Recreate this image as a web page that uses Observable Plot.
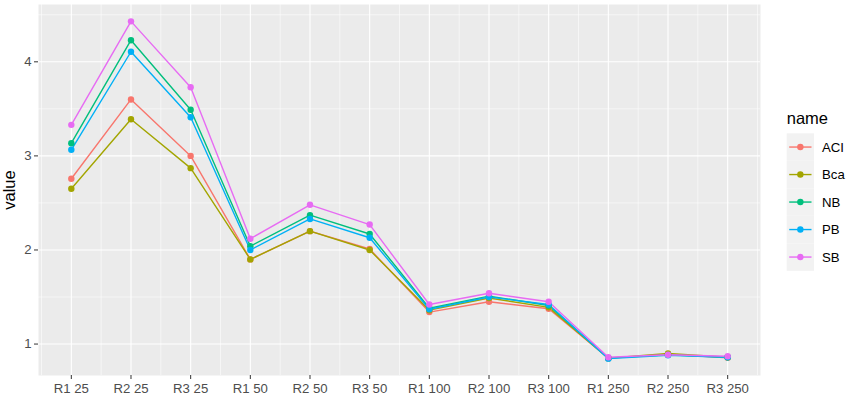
<!DOCTYPE html>
<html>
<head>
<meta charset="utf-8">
<script src="https://cdn.jsdelivr.net/npm/d3@7"></script>
<script src="https://cdn.jsdelivr.net/npm/@observablehq/plot@0.6"></script>
<style>
  html, body { margin: 0; padding: 0; background: #fff; }
  #chart { position: relative; width: 853px; height: 405px; }
  svg { font-family: "Liberation Sans", Arial, sans-serif; }
</style>
</head>
<body>
<div id="chart"></div>
<script>
const categories = ["R1 25","R2 25","R3 25","R1 50","R2 50","R3 50","R1 100","R2 100","R3 100","R1 250","R2 250","R3 250"];
const seriesNames = ["ACI","Bca","NB","PB","SB"];
const seriesColors = ["#F8766D","#A3A500","#00BF7D","#00B0F6","#E76BF3"];
const ACI = [2.757, 3.60, 3.00, 1.90, 2.20, 2.01, 1.34, 1.45, 1.375, 0.850, 0.890, 0.855];
const Bca = [2.650, 3.39, 2.87, 1.90, 2.20, 2.00, 1.36, 1.49, 1.390, 0.850, 0.900, 0.860];
const NB  = [3.135, 4.23, 3.49, 2.04, 2.37, 2.17, 1.38, 1.51, 1.410, 0.850, 0.885, 0.860];
const PB  = [3.065, 4.107, 3.41, 2.00, 2.33, 2.13, 1.37, 1.50, 1.420, 0.845, 0.880, 0.860];
const SB  = [3.33, 4.43, 3.73, 2.12, 2.48, 2.27, 1.42, 1.54, 1.450, 0.860, 0.887, 0.870];
const yMajor = [1, 2, 3, 4];
const yMinor = [1.5, 2.5, 3.5, 4.5];

const seriesValues = {ACI, Bca, NB, PB, SB};
const data = [];
for (const name of seriesNames) {
  seriesValues[name].forEach((v, i) => data.push({name, pos: i + 1, value: v}));
}
const xMajor = categories.map((c, i) => i + 1);
const xMinor = d3.range(0, categories.length + 1).map(i => i + 0.5);

const allVals = data.map(d => d.value);
const ymin = d3.min(allVals), ymax = d3.max(allVals);
const yPad = (ymax - ymin) * 0.05;
const xPad = (categories.length - 1) * 0.05;

const plot = Plot.plot({
  width: 853,
  height: 405,
  marginLeft: 38,
  marginRight: 93,
  marginTop: 4,
  marginBottom: 30,
  style: {fontFamily: '"Liberation Sans", Arial, sans-serif', background: "#fff"},
  x: {type: "linear", domain: [1 - xPad, categories.length + xPad]},
  y: {domain: [ymin - yPad, ymax + yPad]},
  color: {domain: seriesNames, range: seriesColors},
  marks: [
    Plot.frame({fill: "#EBEBEB", stroke: null}),
    Plot.ruleX(xMinor, {stroke: "#fff", strokeWidth: 0.55}),
    Plot.ruleY(yMinor, {stroke: "#fff", strokeWidth: 0.55}),
    Plot.ruleX(xMajor, {stroke: "#fff", strokeWidth: 1.1}),
    Plot.ruleY(yMajor, {stroke: "#fff", strokeWidth: 1.1}),
    Plot.axisX(xMajor, {tickFormat: d => categories[d - 1], tickSize: 4, tickPadding: 4, stroke: "#333", color: "#4D4D4D", fontSize: 13.2, label: null}),
    Plot.axisY(yMajor, {tickFormat: d3.format("d"), tickSize: 4, tickPadding: 3, stroke: "#333", color: "#4D4D4D", fontSize: 13.2, label: null}),
    Plot.line(data, {x: "pos", y: "value", stroke: "name", z: "name", strokeWidth: 1.4}),
    Plot.dot(data, {x: "pos", y: "value", fill: "name", r: 3.2, stroke: null})
  ]
});
document.getElementById("chart").appendChild(plot);

const svg = d3.select(plot);
// y axis title
svg.append("text")
  .attr("transform", "translate(15,190) rotate(-90)")
  .attr("text-anchor", "middle")
  .attr("font-size", 16.5)
  .attr("fill", "#000")
  .text("value");

// legend
const lg = svg.append("g").attr("transform", "translate(786.7,0)").attr("text-anchor", "start");
lg.append("text").attr("x", 0).attr("y", 124).attr("font-size", 16.5).attr("fill", "#000").text("name");
const keyH = 27.5, keyTop = 133.3;
seriesNames.forEach((n, i) => {
  const y0 = keyTop + i * keyH;
  lg.append("rect").attr("x", 0).attr("y", y0).attr("width", 27.3).attr("height", keyH).attr("fill", "#F2F2F2");
  const cy = y0 + keyH / 2;
  lg.append("line").attr("x1", 2.5).attr("x2", 24.8).attr("y1", cy).attr("y2", cy).attr("stroke", seriesColors[i]).attr("stroke-width", 1.4);
  lg.append("circle").attr("cx", 13.65).attr("cy", cy).attr("r", 3.2).attr("fill", seriesColors[i]);
  lg.append("text").attr("x", 35.3).attr("y", cy + 4.7).attr("font-size", 13.2).attr("fill", "#000").text(n);
});
</script>
</body>
</html>
